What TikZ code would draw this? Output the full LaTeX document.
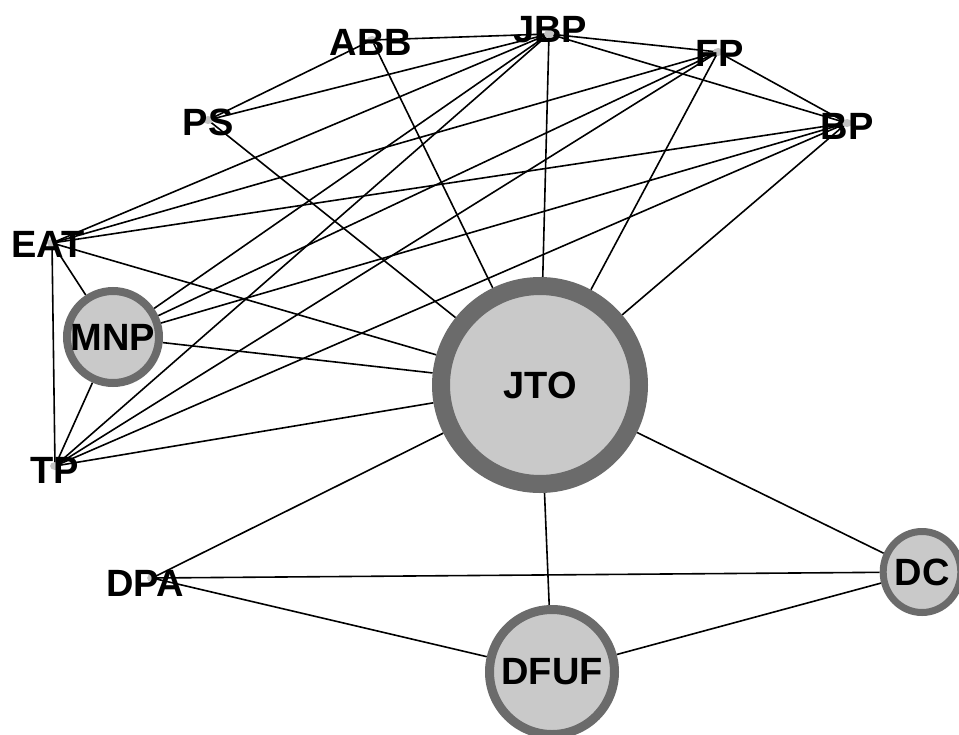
\documentclass[tikz,border=0pt]{standalone}
\usepackage{fontspec}
\setmainfont{Liberation Sans}
\usetikzlibrary{shapes.geometric,backgrounds}
\definecolor{ringgray}{HTML}{6B6B6B}
\definecolor{fillgray}{HTML}{C9C9C9}
\definecolor{dotgray}{HTML}{C4C4C4}

\begin{document}
\begin{tikzpicture}[x=1pt,y=-1pt,
  lbl/.style={inner sep=0pt, font=\fontsize{38}{40}\selectfont\bfseries},
  hub/.style={circle, draw=ringgray, fill=fillgray, inner sep=0pt,
              font=\fontsize{38}{40}\selectfont\bfseries},
  dotmark/.style={ellipse, fill=dotgray, minimum width=10pt, minimum height=8pt, inner sep=0pt},
  link/.style={line width=1.6pt, black}]
\useasboundingbox (0,0) rectangle (959,734);

% weighted hubs
\node[hub, line width=18pt, minimum size=198pt] (JTO)  at (540,385) {JTO};
\node[hub, line width=8pt,  minimum size=92pt]  (MNP)  at (113,337) {MNP};
\node[hub, line width=9pt,  minimum size=125pt] (DFUF) at (552,672) {DFUF};
\node[hub, ellipse, line width=7pt, minimum width=63pt, minimum height=81pt] (DC) at (922,572) {DC};

% small vertices with their labels
\node[dotmark] (ABB) at (372,40)  {};
\node[dotmark] (JBP) at (549,34)  {};
\node[dotmark] (FP)  at (718,52)  {};
\node[dotmark] (PS)  at (208,120) {};
\node[dotmark] (BP)  at (847,123) {};
\node[dotmark] (EAT) at (52,243)  {};
\node[dotmark] (TP)  at (55,466)  {};
\node[dotmark] (DPA) at (152,578) {};

\node[lbl] (ABBt) at (371,42)  {ABB};
\node[lbl] (JBPt) at (550,30)  {JBP};
\node[lbl] (FPt)  at (720,53)  {FP};
\node[lbl] (PSt)  at (208,122) {PS};
\node[lbl] (BPt)  at (847,126) {BP};
\node[lbl] (EATt) at (48,244)  {EAT};
\node[lbl] (TPt)  at (55,470)  {TP};
\node[lbl] (DPAt) at (145,583) {DPA};

\begin{pgfonlayer}{background}
  \fill[white] (0,0) rectangle (959,734);
  % upper cluster
  \draw[link] (ABB.center) -- (JBP.center);
  \draw[link] (ABB.center) -- (PS.center);
  \draw[link] (ABB.center) -- (JTO);
  \draw[link] (PS.center)  -- (JBP.center);
  \draw[link] (PS.center)  -- (JTO);
  \draw[link] (JBP.center) -- (FP.center);
  \draw[link] (JBP.center) -- (BP.center);
  \draw[link] (JBP.center) -- (JTO);
  \draw[link] (JBP.center) -- (EAT.center);
  \draw[link] (JBP.center) -- (MNP);
  \draw[link] (JBP.center) -- (TP.center);
  \draw[link] (FP.center)  -- (BP.center);
  \draw[link] (FP.center)  -- (EAT.center);
  \draw[link] (FP.center)  -- (MNP);
  \draw[link] (FP.center)  -- (TP.center);
  \draw[link] (FP.center)  -- (JTO);
  \draw[link] (BP.center)  -- (EAT.center);
  \draw[link] (BP.center)  -- (MNP);
  \draw[link] (BP.center)  -- (TP.center);
  \draw[link] (BP.center)  -- (JTO);
  \draw[link] (EAT.center) -- (MNP);
  \draw[link] (EAT.center) -- (TP.center);
  \draw[link] (EAT.center) -- (JTO);
  \draw[link] (MNP) -- (TP.center);
  \draw[link] (MNP) -- (JTO);
  \draw[link] (TP.center) -- (JTO);
  % lower cluster
  \draw[link] (JTO) -- (DPA.center);
  \draw[link] (JTO) -- (DC);
  \draw[link] (JTO) -- (DFUF);
  \draw[link] (DPA.center) -- (DC);
  \draw[link] (DPA.center) -- (DFUF);
  \draw[link] (DFUF) -- (DC);
\end{pgfonlayer}
\end{tikzpicture}
\end{document}
